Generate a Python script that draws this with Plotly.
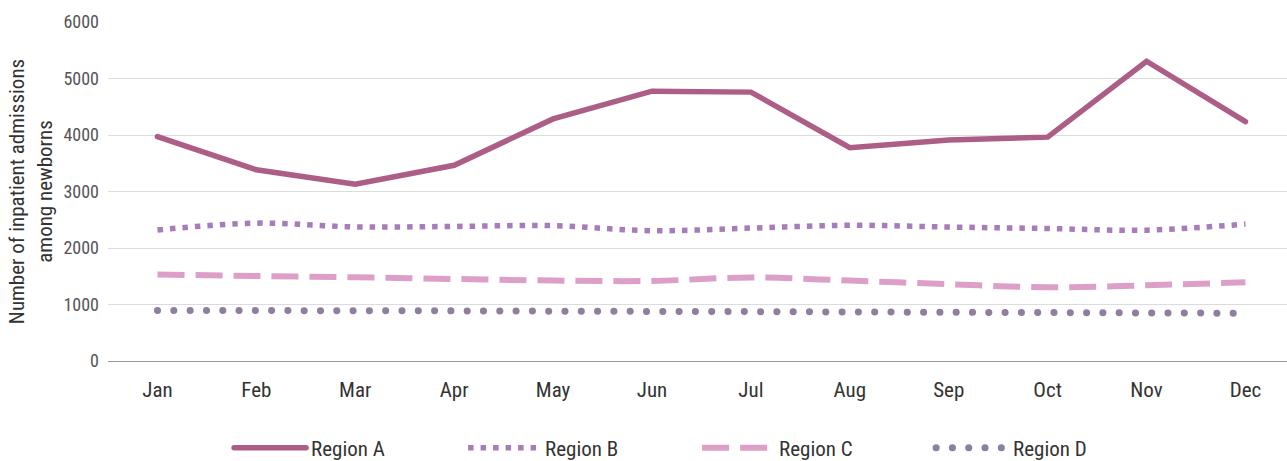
import plotly.graph_objects as go

months = ["Jan", "Feb", "Mar", "Apr", "May", "Jun", "Jul", "Aug", "Sep", "Oct", "Nov", "Dec"]
region_a = [3970, 3385, 3128, 3464, 4284, 4776, 4759, 3776, 3912, 3962, 5306, 4235]
region_b = [2320, 2440, 2373, 2382, 2395, 2306, 2353, 2402, 2371, 2345, 2316, 2424]
region_c = [1530, 1505, 1481, 1452, 1424, 1417, 1478, 1423, 1360, 1304, 1340, 1393]
region_d = [895, 893, 890, 887, 882, 878, 874, 868, 862, 857, 851, 845]
names = ["Region A", "Region B", "Region C", "Region D"]

FONT = "Roboto Condensed, Liberation Sans Narrow, DejaVu Sans Condensed, Roboto, sans-serif"

fig = go.Figure()
fig.add_trace(go.Scatter(x=months, y=region_a, name=names[0], mode="lines",
                         line=dict(color="#ad5e87", width=5.5)))
fig.add_trace(go.Scatter(x=months, y=region_b, name=names[1], mode="lines",
                         line=dict(color="#a67db8", width=5.5, dash="5.5px,7px", shape="spline")))
fig.add_trace(go.Scatter(x=months, y=region_c, name=names[2], mode="lines",
                         line=dict(color="#dca0c8", width=6, dash="27px,11px", shape="spline")))
fig.add_trace(go.Scatter(x=months, y=region_d, name=names[3], mode="lines",
                         line=dict(color="#8e7f9f", width=7, dash="0.1px,16.2px", shape="spline")))

fig.update_layout(
    width=1287, height=461,
    margin=dict(l=108, r=0, t=22, b=100, autoexpand=False),
    paper_bgcolor="white", plot_bgcolor="white",
    font=dict(family=FONT, size=20, color="#444"),
    showlegend=True,
    legend=dict(orientation="h", xref="container", yref="container",
                xanchor="left", yanchor="middle", x=0.178, y=0.028,
                itemwidth=72, entrywidth=147, font=dict(size=21, color="#333"),
                traceorder="normal"),
    hovermode=False,
)
fig.update_xaxes(type="category", range=[-0.5, 11.42], showgrid=False, showline=False,
                 ticks="", ticklabelstandoff=14, tickfont=dict(size=21, color="#333"),
                 zeroline=False, fixedrange=True, automargin=False)
fig.update_yaxes(range=[0, 6000], dtick=1000, showgrid=True, gridcolor="#dcdcdc", gridwidth=1,
                 zeroline=True, zerolinecolor="#9a9a9a", zerolinewidth=1.3,
                 showline=False, ticks="", ticklabelstandoff=8,
                 tickfont=dict(size=18, color="#555"),
                 title=dict(text="Number of inpatient admissions<br>among newborns",
                            font=dict(size=21, color="#333"), standoff=5),
                 fixedrange=True, automargin=False)

post = """
document.documentElement.style.margin='0';
document.body.style.margin='0';
document.body.style.padding='0';
var gd = document.getElementById('{plot_id}');
function fixCaps(){
  var tr = gd.querySelectorAll('.scatterlayer .trace');
  if (tr[3]) tr[3].querySelectorAll('path.js-line').forEach(function(p){p.style.strokeLinecap='round';});
  if (tr[0]) tr[0].querySelectorAll('path.js-line').forEach(function(p){p.style.strokeLinecap='round';});
  var lg = gd.querySelectorAll('.legend .traces');
  if (lg[3]) lg[3].querySelectorAll('path.js-line').forEach(function(p){p.style.strokeLinecap='round';});
  if (lg[0]) lg[0].querySelectorAll('path.js-line').forEach(function(p){p.style.strokeLinecap='round';});
}
fixCaps();
gd.on('plotly_afterplot', fixCaps);
"""
fig.write_html("out.html", post_script=post, config={"displayModeBar": False})
